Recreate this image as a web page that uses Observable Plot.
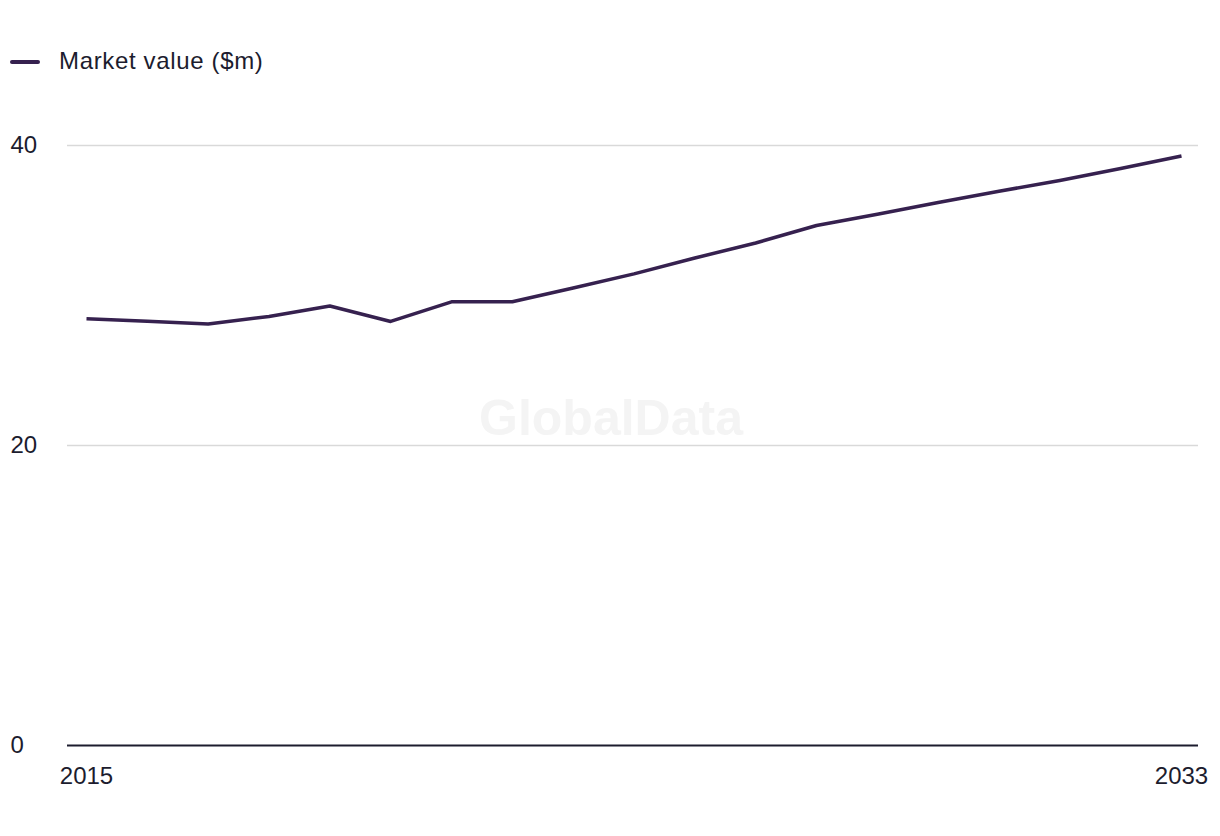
<!DOCTYPE html>
<html>
<head>
<meta charset="utf-8">
<script src="https://cdn.jsdelivr.net/npm/d3@7"></script>
<script src="https://cdn.jsdelivr.net/npm/@observablehq/plot@0.6"></script>
<style>
  html, body { margin: 0; padding: 0; background: #fff; }
  body { width: 1220px; height: 836px; overflow: hidden; font-family: "Liberation Sans", Arial, sans-serif; color: #1c1c2e; }
  #legend { height: 100px; position: relative; }
  #legend .sw { position: absolute; left: 10px; top: 60px; width: 30px; height: 4px; border-radius: 2px; background: #36214f; }
  #legend .lab { position: absolute; left: 59px; top: 47px; font-size: 24px; line-height: 28px; letter-spacing: 0.65px; }
</style>
</head>
<body>
<div id="legend"><span class="sw"></span><span class="lab">Market value ($m)</span></div>
<div id="chart"></div>
<script>
const years = [2015, 2016, 2017, 2018, 2019, 2020, 2021, 2022, 2023, 2024, 2025, 2026, 2027, 2028, 2029, 2030, 2031, 2032, 2033];
const marketValue = [28.45, 28.28, 28.1, 28.6, 29.3, 28.27, 29.58, 29.58, 30.5, 31.44, 32.5, 33.5, 34.67, 35.42, 36.2, 36.95, 37.67, 38.47, 39.3];
const yTicks = [0, 20, 40];
const xTicks = [2015, 2033];
const seriesName = "Market value ($m)";
const watermark = "GlobalData";

const data = years.map((y, i) => ({year: y, value: marketValue[i], series: seriesName}));

const chart = Plot.plot({
  width: 1220,
  height: 700,
  marginTop: 45,
  marginBottom: 55,
  marginLeft: 67,
  marginRight: 22,
  style: {fontFamily: "Liberation Sans, Arial, sans-serif", fontSize: "24px", color: "#1c1c2e", background: "#fff"},
  x: {domain: [2015, 2033], insetLeft: 19, insetRight: 17},
  y: {domain: [0, 40]},
  marks: [
    Plot.ruleY(yTicks.filter(d => d !== 0), {stroke: "#d9d9d9", strokeWidth: 1.5}),
    Plot.text([watermark], {frameAnchor: "middle", dx: -22, dy: -27, text: d => d, fontSize: 50, fontWeight: "bold", fill: "#f4f4f4"}),
    Plot.ruleY([0], {stroke: "#1c1c2e", strokeWidth: 2}),
    Plot.axisY(yTicks, {tickSize: 0, tickPadding: 57, textAnchor: "start", label: null, fill: "#1c1c2e", fontSize: 24}),
    Plot.axisX(xTicks, {tickSize: 0, tickPadding: 21, tickFormat: d => String(d), label: null, fill: "#1c1c2e", fontSize: 24}),
    Plot.line(data, {x: "year", y: "value", stroke: "#36214f", strokeWidth: 3.5, strokeLinejoin: "round", strokeLinecap: "butt"})
  ]
});
document.getElementById("chart").appendChild(chart);
</script>
</body>
</html>
